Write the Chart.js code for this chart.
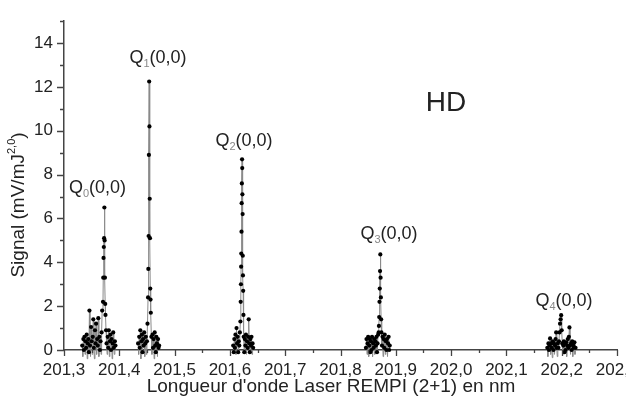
<!DOCTYPE html>
<html>
<head>
<meta charset="utf-8">
<script src="https://cdn.jsdelivr.net/npm/chart.js@4.4.1/dist/chart.umd.min.js"></script>
<style>
  html, body { margin: 0; padding: 0; background: #fff; overflow: hidden; }
  #wrap { position: relative; width: 660px; height: 403px; }
</style>
</head>
<body>
<div id="wrap"><canvas id="canvas"></canvas></div>
<script>
// HD REMPI (2+1) spectrum, Q branch lines Q0..Q4 (wavelength in nm, signal in mV/mJ^2)
const q0Wave = [201.333, 201.334, 201.335, 201.336, 201.337, 201.338, 201.339, 201.340, 201.341, 201.342,
  201.343, 201.344, 201.345, 201.346, 201.347, 201.348, 201.349, 201.350, 201.351, 201.352,
  201.353, 201.354, 201.355, 201.356, 201.357, 201.358, 201.359, 201.360, 201.361, 201.362,
  201.363, 201.364, 201.365, 201.366, 201.367, 201.368, 201.369, 201.3705, 201.371, 201.3715,
  201.372, 201.3725, 201.373, 201.3735, 201.374, 201.3745, 201.375, 201.376, 201.377, 201.378,
  201.379, 201.380, 201.381, 201.382, 201.383, 201.384, 201.385, 201.386, 201.387, 201.388,
  201.389, 201.390, 201.391, 201.392, 201.393]
const q0Signal = [0.2, -0.3, 0.5, 0.0, 0.6, -0.2, 0.4, 0.1, 0.7, -0.4,
  0.3, 0.5, -0.1, 1.8, 0.2, -0.3, 1.05, 0.4, -0.2, 0.6,
  1.4, 0.1, -0.4, 0.9, 0.3, 1.2, -0.2, 0.5, 0.2, 1.45,
  -0.3, 0.6, 0.0, 0.4, -0.2, 0.8, 1.8, 2.2, 3.3, 4.2,
  4.7, 5.1, 6.5, 5.0, 3.3, 2.1, 1.6, 0.9, 0.3, -0.2,
  0.6, 0.1, 0.9, -0.3, 0.4, 0.7, 0.0, 0.5, -0.4, 0.3,
  0.8, 0.1, -0.2, 0.4, 0.2]

const q1Wave = [201.434, 201.435, 201.436, 201.437, 201.438, 201.439, 201.440, 201.441, 201.442, 201.443,
  201.444, 201.445, 201.446, 201.447, 201.448, 201.449, 201.450, 201.451, 201.452, 201.4525,
  201.453, 201.4535, 201.454, 201.4545, 201.455, 201.4555, 201.456, 201.4565, 201.457, 201.458,
  201.459, 201.460, 201.461, 201.462, 201.463, 201.464, 201.465, 201.466, 201.467, 201.468,
  201.469, 201.470, 201.471, 201.472]
const q1Signal = [0.3, -0.2, 0.6, 0.1, 0.9, -0.4, 0.4, 0.7, -0.1, 0.5,
  0.2, 0.8, -0.3, 0.3, 0.6, -0.2, 0.4, 1.2, 2.4, 3.7,
  5.2, 8.9, 12.25, 10.2, 6.9, 5.1, 2.8, 2.3, 1.7, 0.6,
  -0.2, 0.7, 0.1, 0.5, -0.4, 0.8, 0.2, -0.1, 0.6, 0.3,
  -0.3, 0.5, 0.1, 0.2]

const q2Wave = [201.606, 201.607, 201.608, 201.609, 201.610, 201.611, 201.612, 201.613, 201.614, 201.615,
  201.616, 201.617, 201.618, 201.619, 201.6195, 201.620, 201.6203, 201.6206, 201.621, 201.6213,
  201.6216, 201.622, 201.6223, 201.6226, 201.623, 201.6233, 201.6236, 201.624, 201.6245, 201.625,
  201.626, 201.627, 201.628, 201.629, 201.630, 201.631, 201.632, 201.633, 201.634, 201.635,
  201.636, 201.637, 201.638, 201.639, 201.640, 201.641, 201.642]
const q2Signal = [0.2, -0.1, 0.5, 0.1, 0.7, -0.2, 1.0, 0.3, 0.6, -0.1,
  0.4, 0.2, 0.8, 1.3, 2.2, 3.0, 3.8, 4.4, 5.4, 6.7,
  7.6, 8.7, 8.3, 7.1, 6.2, 4.3, 3.4, 2.7, 1.6, 0.6,
  -0.1, 0.5, 0.2, 0.7, -0.2, 0.4, 0.1, 0.6, 1.4, 0.3,
  -0.1, 0.5, 0.2, 0.6, -0.2, 0.3, 0.1]

const q3Wave = [201.846, 201.847, 201.848, 201.849, 201.850, 201.851, 201.852, 201.853, 201.854, 201.855,
  201.856, 201.857, 201.858, 201.859, 201.860, 201.861, 201.862, 201.863, 201.864, 201.865,
  201.866, 201.867, 201.868, 201.869, 201.8695, 201.870, 201.8705, 201.871, 201.8715, 201.872,
  201.8725, 201.873, 201.8735, 201.874, 201.875, 201.876, 201.877, 201.878, 201.879, 201.880,
  201.881, 201.882, 201.883, 201.884, 201.885, 201.886, 201.887, 201.888, 201.889]
const q3Signal = [0.1, 0.5, -0.2, 0.3, 0.6, -0.3, 0.2, 0.5, -0.1, 0.4,
  0.0, 0.6, -0.3, 0.3, 0.1, 0.5, -0.2, 0.4, 0.2, 0.6,
  -0.1, 0.3, 0.7, 0.8, 1.1, 1.5, 2.2, 2.8, 3.6, 4.36,
  3.3, 2.4, 1.4, 0.8, 0.2, 0.6, -0.3, 0.5, 0.1, 0.7,
  -0.2, 0.4, 0.0, 0.5, -0.3, 0.3, 0.6, 0.0, 0.2]

const q4Wave = [202.174, 202.175, 202.176, 202.177, 202.178, 202.179, 202.180, 202.181, 202.182, 202.183,
  202.184, 202.185, 202.186, 202.187, 202.188, 202.189, 202.190, 202.191, 202.192, 202.193,
  202.194, 202.195, 202.196, 202.197, 202.198, 202.199, 202.200, 202.201, 202.202, 202.203,
  202.204, 202.205, 202.206, 202.207, 202.208, 202.209, 202.210, 202.211, 202.212, 202.213,
  202.214, 202.215, 202.216, 202.217, 202.218, 202.219, 202.220, 202.221, 202.222, 202.223,
  202.224, 202.225]
const q4Signal = [0.1, -0.3, 0.3, 0.0, 0.2, 0.53, -0.2, 0.3, 0.1, -0.35,
  0.4, 0.0, 0.3, -0.2, 0.2, 0.5, 0.8, 0.1, -0.3, 0.3,
  0.1, 0.4, 0.8, 1.2, 1.4, 1.59, 0.9, 0.3, -0.2, 0.2,
  0.4, -0.1, 0.3, 0.0, 0.35, -0.3, 0.2, 0.5, 0.1, 0.6,
  1.03, 0.2, -0.2, 0.3, 0.0, 0.4, -0.3, 0.2, 0.1, 0.35,
  -0.2, 0.1]

// peak labels: Q_j(0,0) and where they sit (data units)
const labelIndex = ['0', '1', '2', '3', '4']
const labelWave = [201.3606, 201.470, 201.6255, 201.8877, 202.2042]
const labelSignal = [7.4, 13.32, 9.53, 5.29, 2.25]

const xMin = 201.3, xMax = 202.3
const yMin = 0, yMax = 15

const FONT = "'Liberation Sans', Arial, sans-serif"

const toPoints = (wave, signal) => wave.map((w, i) => ({ x: w, y: signal[i] }))

const series = [
  toPoints(q0Wave, q0Signal),
  toPoints(q1Wave, q1Signal),
  toPoints(q2Wave, q2Signal),
  toPoints(q3Wave, q3Signal),
  toPoints(q4Wave, q4Signal)
]

// ticks drawn by hand so minor ticks can be shorter than major ones
const tickPlugin = {
  id: 'ticks',
  afterDraw(chart) {
    const ctx = chart.ctx
    const area = chart.chartArea
    const xs = chart.scales.x
    const ys = chart.scales.y
    ctx.save()
    ctx.strokeStyle = '#444'
    ctx.lineWidth = 1.3
    ctx.beginPath()
    xs.ticks.forEach(t => {
      const px = Math.round(xs.getPixelForValue(t.value)) + 0.5
      const major = Math.round(t.value * 100) % 10 === 0
      ctx.moveTo(px, area.bottom)
      ctx.lineTo(px, area.bottom + (major ? 6 : 3))
    })
    ys.ticks.forEach(t => {
      const py = Math.round(ys.getPixelForValue(t.value)) + 0.5
      const major = t.value % 2 === 0
      ctx.moveTo(area.left, py)
      ctx.lineTo(area.left - (major ? 7 : 4), py)
    })
    ctx.stroke()
    ctx.restore()
  }
}

// axis titles and peak labels
const textPlugin = {
  id: 'texts',
  afterDraw(chart) {
    const ctx = chart.ctx
    const xs = chart.scales.x
    const ys = chart.scales.y
    ctx.save()
    ctx.fillStyle = '#222'
    ctx.textBaseline = 'middle'

    // x title
    ctx.font = '19px ' + FONT
    ctx.textAlign = 'center'
    ctx.fillText("Longueur d'onde Laser REMPI (2+1) en nm", 331, 387)

    // y title with superscript
    ctx.save()
    ctx.translate(19, 205)
    ctx.rotate(-Math.PI / 2)
    ctx.textAlign = 'left'
    const main = 'Signal (mV/mJ'
    const sup = '2,0'
    ctx.font = '19px ' + FONT
    const wMain = ctx.measureText(main).width
    const wClose = ctx.measureText(')').width
    ctx.font = '11px ' + FONT
    const wSup = ctx.measureText(sup).width
    let x0 = -(wMain + wSup + wClose) / 2
    ctx.font = '19px ' + FONT
    ctx.fillText(main, x0, 0)
    ctx.font = '11px ' + FONT
    ctx.fillText(sup, x0 + wMain, -7)
    ctx.font = '19px ' + FONT
    ctx.fillText(')', x0 + wMain + wSup, 0)
    ctx.restore()

    // HD
    ctx.font = '28px ' + FONT
    ctx.textAlign = 'center'
    ctx.fillText('HD', xs.getPixelForValue(201.9908), ys.getPixelForValue(11.25))

    // Q_j(0,0)
    labelIndex.forEach((j, i) => {
      const cx = xs.getPixelForValue(labelWave[i])
      const cy = ys.getPixelForValue(labelSignal[i])
      ctx.font = '18px ' + FONT
      const wQ = ctx.measureText('Q').width
      const wRest = ctx.measureText('(0,0)').width
      ctx.font = '11px ' + FONT
      const wSub = ctx.measureText(j).width
      let left = cx - (wQ + wSub + wRest) / 2
      ctx.textAlign = 'left'
      ctx.font = '18px ' + FONT
      ctx.fillStyle = '#222'
      ctx.fillText('Q', left, cy)
      ctx.font = '11px ' + FONT
      ctx.fillStyle = '#888'
      ctx.fillText(j, left + wQ, cy + 6)
      ctx.font = '18px ' + FONT
      ctx.fillStyle = '#222'
      ctx.fillText('(0,0)', left + wQ + wSub, cy)
    })
    ctx.restore()
  }
}

const target = document.querySelector('#canvas')
const spectrumChart = new Chart(target, {
  type: 'scatter',
  data: {
    datasets: series.map(pts => ({
      data: pts,
      showLine: true,
      borderColor: '#8a8a8a',
      borderWidth: 1,
      pointRadius: 2.1,
      pointBorderWidth: 0,
      pointBackgroundColor: '#000',
      clip: false
    }))
  },
  options: {
    responsive: true,
    maintainAspectRatio: false,
    animation: false,
    layout: { padding: { left: 0, top: 10, right: 43, bottom: 0 } },
    plugins: {
      legend: { display: false },
      tooltip: { enabled: false }
    },
    scales: {
      x: {
        type: 'linear',
        min: xMin,
        max: xMax,
        afterFit: scale => { scale.height = 53 },
        border: { color: '#444', width: 1.5 },
        grid: { drawOnChartArea: false, drawTicks: false },
        ticks: {
          stepSize: 0.05,
          autoSkip: false,
          maxRotation: 0,
          padding: 10,
          color: '#222',
          font: { family: FONT, size: 17 },
          callback: v => Math.round(v * 100) % 10 === 0 ? v.toFixed(1).replace('.', ',') : ''
        }
      },
      y: {
        min: yMin,
        max: yMax,
        afterFit: scale => { scale.width = 64 },
        border: { color: '#444', width: 1.5 },
        grid: { drawOnChartArea: false, drawTicks: false },
        ticks: {
          stepSize: 1,
          autoSkip: false,
          padding: 11,
          color: '#222',
          font: { family: FONT, size: 17 },
          callback: v => v % 2 === 0 ? v : ''
        }
      }
    }
  },
  plugins: [tickPlugin, textPlugin]
})
</script>
</body>
</html>
